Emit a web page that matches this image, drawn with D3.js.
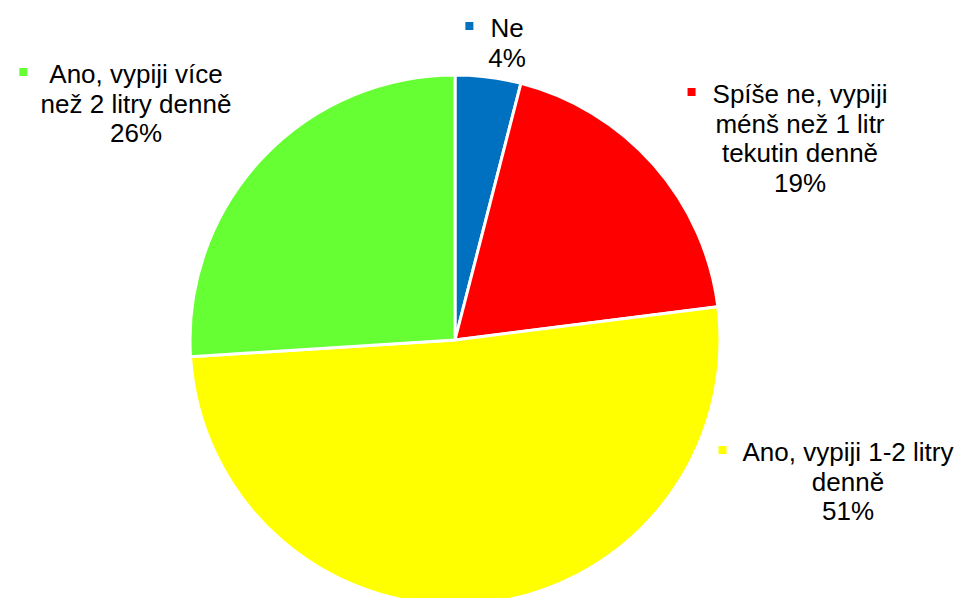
<!DOCTYPE html>
<html>
<head>
<meta charset="utf-8">
<script src="https://cdn.jsdelivr.net/npm/d3@7/dist/d3.min.js"></script>
<style>
  html, body { margin: 0; padding: 0; background: #fff; }
  svg { display: block; }
  text { font-family: "Liberation Sans", Arial, sans-serif; fill: #000; }
</style>
</head>
<body>
<svg id="chart" width="960" height="598"></svg>
<script>
// Answers (share of respondents, %), in drawing order clockwise from 12 o'clock
const categories = [
  "Ne",
  "Spíše ne, vypiji ménš než 1 litr tekutin denně",
  "Ano, vypiji 1-2 litry denně",
  "Ano, vypiji více než 2 litry denně"
];
const values = [4, 19, 51, 26];
const valueLabels = ["4%", "19%", "51%", "26%"];
// Wrapped label lines (category text as it breaks in each data label)
const labelLines = [
  ["Ne"],
  ["Spíše ne, vypiji", "ménš než 1 litr", "tekutin denně"],
  ["Ano, vypiji 1-2 litry", "denně"],
  ["Ano, vypiji více", "než 2 litry denně"]
];
const colors = ["#0070C0", "#FF0000", "#FFFF00", "#66FF33"];

// Layout
const width = 960, height = 598;
const cx = 455, cy = 340, radius = 265;
const fontSize = 26, lineHeight = 29.5;
const keySize = 8;
// Label anchors: [centre x, first baseline y, gap between key and text]
const labelPos = [[507, 37, 17], [800, 103, 17], [848, 461, 16], [136, 83, 22]];

const svg = d3.select("#chart");

const pie = d3.pie().sort(null).value(d => d)(values);
const arc = d3.arc().innerRadius(0).outerRadius(radius);

svg.append("g")
  .attr("transform", `translate(${cx},${cy})`)
  .selectAll("path")
  .data(pie)
  .join("path")
  .attr("d", arc)
  .attr("fill", (d, i) => colors[i])
  .attr("stroke", "#fff")
  .attr("stroke-width", 3)
  .attr("stroke-linejoin", "round");

// Data labels with a legend key before the first line
const labels = svg.append("g").selectAll("g")
  .data(categories)
  .join("g");

labels.each(function(c, i) {
  const g = d3.select(this);
  const [lx, ly, gap] = labelPos[i];
  const lines = labelLines[i].concat([valueLabels[i]]);
  const text = g.append("text")
    .attr("text-anchor", "middle")
    .style("font-size", fontSize + "px");
  const spans = text.selectAll("tspan")
    .data(lines)
    .join("tspan")
    .attr("x", lx)
    .attr("y", (d, j) => ly + j * lineHeight)
    .text(d => d);
  const w = spans.nodes()[0].getComputedTextLength();
  g.append("rect")
    .attr("x", lx - w / 2 - gap - keySize)
    .attr("y", ly - 11 - keySize / 2)
    .attr("width", keySize)
    .attr("height", keySize)
    .attr("fill", colors[i]);
});
</script>
</body>
</html>
